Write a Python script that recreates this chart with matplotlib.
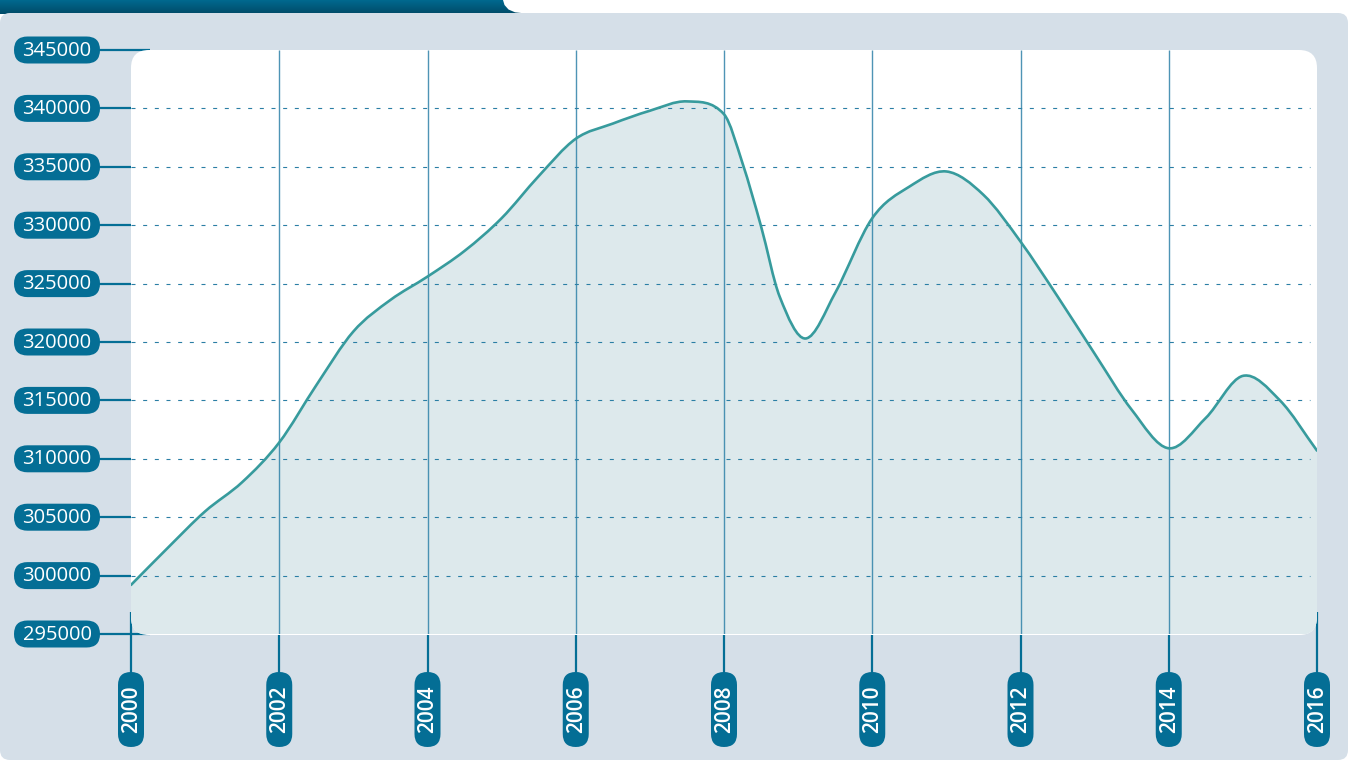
import numpy as np
import matplotlib
matplotlib.use("Agg")
import matplotlib.pyplot as plt
from matplotlib.patches import FancyBboxPatch, PathPatch, Polygon
from matplotlib.path import Path
from matplotlib.colors import LinearSegmentedColormap

plt.rcParams['font.family'] = ['Open Sans', 'DejaVu Sans']

# data
years = [2000, 2000.5, 2001, 2001.5, 2002, 2002.5, 2003, 2003.5, 2004, 2004.5,
         2005, 2005.5, 2006, 2006.5, 2007, 2007.5, 2008, 2008.25, 2008.5,
         2008.75, 2009.1, 2009.5, 2010, 2010.5, 2011, 2011.5, 2012, 2012.5, 2013,
         2013.5, 2014, 2014.5, 2015, 2015.5, 2016]
values = [299200, 302400, 305500, 308000, 311400, 316300, 320900, 323600, 325600, 327800,
          330600, 334200, 337400, 338700, 339800, 340600, 339500, 335300, 329900,
          323900, 320300, 324200, 330600, 333300, 334600, 332600, 328600, 323900, 319000,
          314200, 310900, 313500, 317100, 315000, 310700]
y_ticks = [295000, 300000, 305000, 310000, 315000, 320000, 325000, 330000, 335000, 340000, 345000]
x_ticks = [2000, 2002, 2004, 2006, 2008, 2010, 2012, 2014, 2016]

W, H = 1348, 761
PILL = '#046e95'
PANEL = '#d5dfe8'
LINE = '#379b9d'
FILL = '#dde9ec'
GRID = '#2a7ea4'


def smooth_path(xs, ys, base=None):
    # cubic bezier through every point (catmull-rom style tangents)
    xs = np.asarray(xs, float)
    ys = np.asarray(ys, float)
    n = len(xs)
    m = np.zeros(n)
    m[1:-1] = (ys[2:] - ys[:-2]) / (xs[2:] - xs[:-2])
    m[0] = (ys[1] - ys[0]) / (xs[1] - xs[0])
    m[-1] = (ys[-1] - ys[-2]) / (xs[-1] - xs[-2])
    verts = [(xs[0], ys[0])]
    codes = [Path.MOVETO]
    for i in range(n - 1):
        h = xs[i + 1] - xs[i]
        verts += [(xs[i] + h / 3, ys[i] + m[i] * h / 3),
                  (xs[i + 1] - h / 3, ys[i + 1] - m[i + 1] * h / 3),
                  (xs[i + 1], ys[i + 1])]
        codes += [Path.CURVE4] * 3
    if base is not None:
        verts += [(xs[-1], base), (xs[0], base), (xs[0], ys[0])]
        codes += [Path.LINETO, Path.LINETO, Path.CLOSEPOLY]
    return Path(verts, codes)


fig = plt.figure(figsize=(W / 100, H / 100), dpi=100)
fig.patch.set_facecolor('white')

# background layer in pixel units
bg = fig.add_axes([0, 0, 1, 1])
bg.set_xlim(0, W)
bg.set_ylim(H, 0)
bg.axis('off')

# main data axes
ax = fig.add_axes([131 / W, 1 - 634 / H, 1186 / W, 584 / H])
ax.set_xlim(2000, 2016)
ax.set_ylim(295000, 345000)
ax.patch.set_alpha(0)
ax.axis('off')
ax.set_zorder(2)


def to_px(x, y):
    dx, dy = ax.transData.transform((x, y))
    return dx, H - dy


# dark tab top-left with gradient
tab = Polygon([(0, 0), (503, 0), (504.5, 5), (508.5, 9.5), (515, 12.3), (523, 13.2),
               (525, 30), (0, 30)], closed=True, fc='none', ec='none')
bg.add_patch(tab)
grad = np.linspace(0, 1, 64).reshape(-1, 1)
cmap = LinearSegmentedColormap.from_list('tab', ['#00698f', '#004b68'])
im = bg.imshow(grad, extent=(0, 530, 14, 0), cmap=cmap, aspect='auto', zorder=0.5)
im.set_clip_path(tab)
bg.set_xlim(0, W)
bg.set_ylim(H, 0)

# panel
bg.add_patch(FancyBboxPatch((0, 13), W, H - 14, boxstyle='round,pad=0,rounding_size=10',
                            fc=PANEL, ec='none', zorder=1))

# connectors (behind the white plot area)
for v in y_ticks:
    _, py = to_px(2000, v)
    bg.plot([98, 150], [py, py], color=PILL, lw=1.6, solid_capstyle='butt', zorder=2)
for yr in x_ticks:
    px, _ = to_px(yr, 295000)
    bg.plot([px, px], [612, 674], color=PILL, lw=1.6, solid_capstyle='butt', zorder=2)

# white plot area
plot_rect = FancyBboxPatch((131, 50), 1186, 585, boxstyle='round,pad=0,rounding_size=18',
                           fc='white', ec='none', zorder=3)
bg.add_patch(plot_rect)

# y labels
for v in y_ticks:
    _, py = to_px(2000, v)
    bg.add_patch(FancyBboxPatch((14, py - 13.5), 86, 27, boxstyle='round,pad=0,rounding_size=13.5',
                                fc=PILL, ec='none', zorder=4))
    bg.text(57, py + 0.5, str(v), color='white', fontsize=14.5, ha='center', va='center', zorder=5)

# x labels
for yr in x_ticks:
    px, _ = to_px(yr, 295000)
    bg.add_patch(FancyBboxPatch((px - 13, 672), 26, 75, boxstyle='round,pad=0,rounding_size=13',
                                fc=PILL, ec='none', zorder=4))
    bg.text(px + 0.5, 709.5, str(yr), color='white', fontsize=15, fontweight='semibold',
            rotation=90, ha='center', va='center', zorder=5)

# area fill
area = PathPatch(smooth_path(years, values, base=290000), fc=FILL, ec='none', zorder=1)
ax.add_patch(area)
area.set_clip_path(plot_rect)

# grid
for v in y_ticks[1:-1]:
    ax.plot([2000, 2015.9], [v, v], color=GRID, lw=0.8, dashes=(3.6, 6.9), zorder=2)
ax.vlines(x_ticks[1:-1], 295000, 345000, color='#2f82a8', lw=1.0, alpha=0.85, zorder=2)

# line
curve = PathPatch(smooth_path(years, values), fc='none', ec=LINE, lw=1.9, zorder=3,
                  capstyle='round', joinstyle='round')
ax.add_patch(curve)

fig.savefig('out.png', dpi=100)
